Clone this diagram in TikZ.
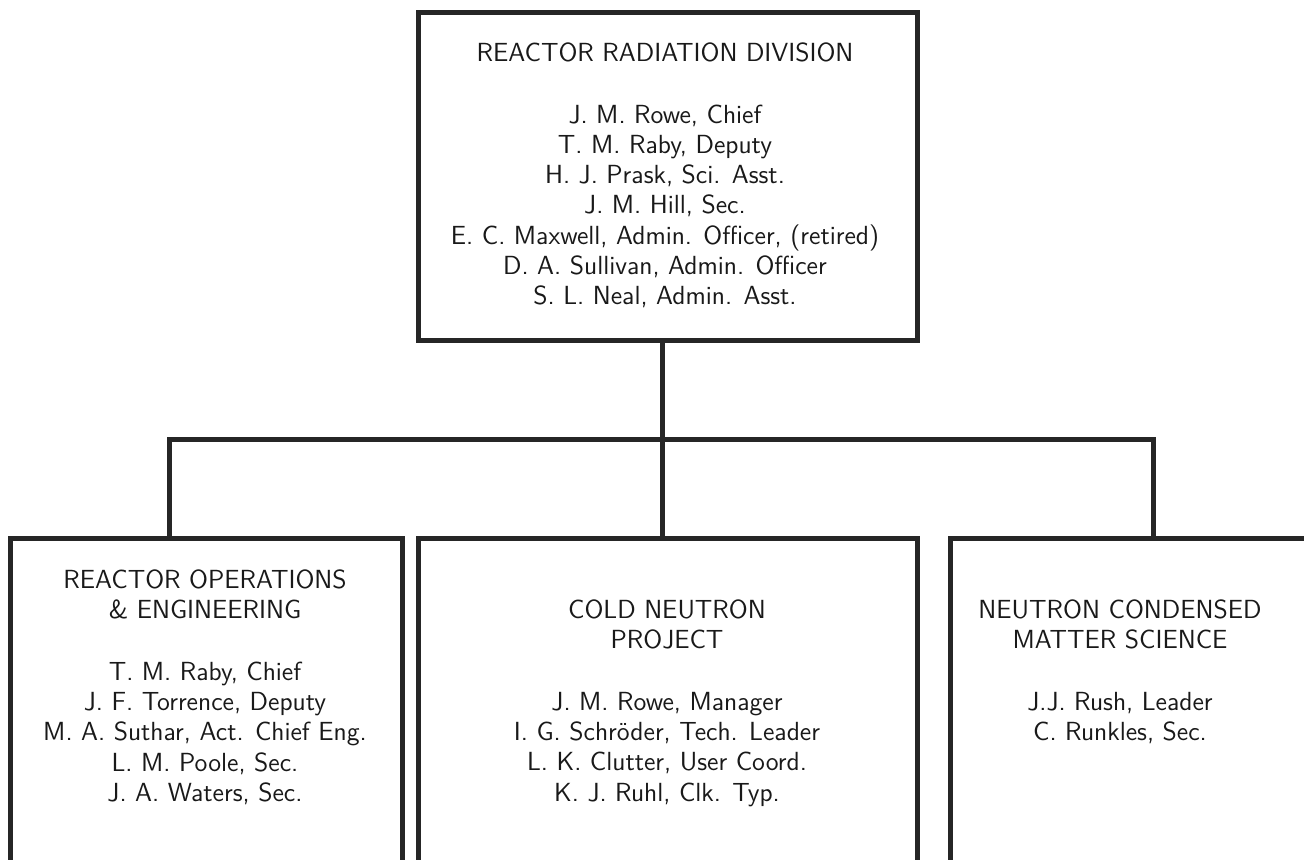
\documentclass[tikz,border=0pt]{standalone}
\begin{document}
\begin{tikzpicture}[x=0.5pt,y=-0.5pt,
  box/.style={draw=black!85,line width=2.5pt,inner sep=0,outer sep=0},
  unit/.style={font=\sffamily\fontsize{13.1}{15.1}\selectfont,text=black!90,align=center,anchor=north,inner sep=0},
  link/.style={draw=black!85,line width=2.5pt}]
  \useasboundingbox[fill=white] (0,0) rectangle (1304,859);
  % Division
  \node[box,minimum width=249.5pt,minimum height=164pt] (rrd) at (667.5,176) {};
  \node[unit] (rrdtext) at (665,42) {REACTOR RADIATION DIVISION\\[16pt]
    J. M. Rowe, Chief\\ T. M. Raby, Deputy\\ H. J. Prask, Sci. Asst.\\
    J. M. Hill, Sec.\\ E. C. Maxwell, Admin. Officer, (retired)\\
    D. A. Sullivan, Admin. Officer\\ S. L. Neal, Admin. Asst.};
  % Groups
  \node[box,minimum width=196pt,minimum height=171pt] (roe) at (206,709) {};
  \node[box,minimum width=249.5pt,minimum height=171pt] (cnp) at (667.5,709) {};
  \node[box,minimum width=197.5pt,minimum height=171pt] (ncms) at (1147.5,709) {};
  \node[unit] (roetext) at (205,569) {REACTOR OPERATIONS\\ \& ENGINEERING\\[16pt]
    T. M. Raby, Chief\\ J. F. Torrence, Deputy\\ M. A. Suthar, Act. Chief Eng.\\
    L. M. Poole, Sec.\\ J. A. Waters, Sec.};
  \node[unit] (cnptext) at (667,599) {COLD NEUTRON\\ PROJECT\\[16pt]
    J. M. Rowe, Manager\\ I. G. Schröder, Tech. Leader\\
    L. K. Clutter, User Coord.\\ K. J. Ruhl, Clk. Typ.};
  \node[unit] (ncmstext) at (1120,599) {NEUTRON CONDENSED\\ MATTER SCIENCE\\[16pt]
    J.J. Rush, Leader\\ C. Runkles, Sec.};
  % Lines
  \coordinate (hub) at (662,439);
  \coordinate (bl) at (169,439);
  \coordinate (br) at (1153,439);
  \draw[link] (rrd.south -| hub) -- (cnp.north -| hub);
  \draw[link] (roe.north -| bl) -- (bl) -- (br) -- (ncms.north -| br);
\end{tikzpicture}
\end{document}
